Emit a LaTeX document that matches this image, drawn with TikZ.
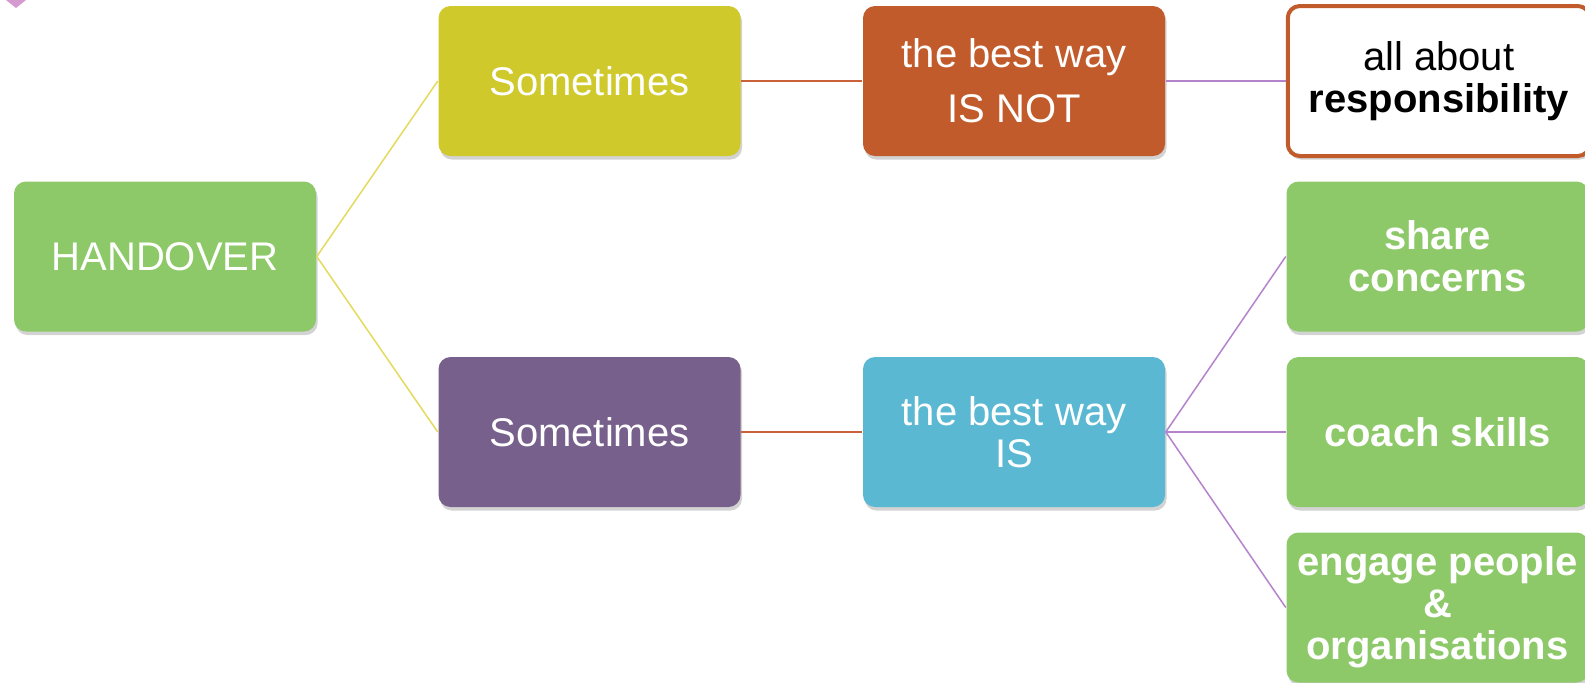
\documentclass[tikz,border=0pt]{standalone}
\usepackage{fontspec}
\setmainfont{Liberation Sans}
\usetikzlibrary{positioning, shadows}

\definecolor{leafgreen}{HTML}{8DC968}
\definecolor{olive}{HTML}{CFC92B}
\definecolor{rust}{HTML}{C25B2B}
\definecolor{plum}{HTML}{77608C}
\definecolor{sky}{HTML}{5BB8D3}
\definecolor{linkyellow}{HTML}{E3DA5E}
\definecolor{linkrust}{HTML}{C9623A}
\definecolor{linkpurple}{HTML}{B583CB}
\definecolor{cornerpink}{HTML}{D59AD0}

\begin{document}
\begin{tikzpicture}[
                    line width=0.75pt,
                    node distance=12pt and 60.5pt
                ]
                \tikzset{
                    box/.style = {rounded corners=6pt, minimum width=151pt, minimum height=75pt,
                                  inner sep=2pt, align=center, text=white,
                                  font=\fontsize{20}{21}\selectfont,
                                  drop shadow={shadow xshift=0.8pt, shadow yshift=-1.8pt, opacity=0.35}},
                    boldbox/.style = {box, fill=leafgreen, font=\fontsize{20}{21}\selectfont\bfseries},
                    yline/.style = {draw=linkyellow},
                    rline/.style = {draw=linkrust},
                    pline/.style = {draw=linkpurple}
                }

                \useasboundingbox (0,0) rectangle (792.5pt,-341pt);

                % corner mark
                \fill[cornerpink] (3pt,0) -- (8pt,-4pt) -- (13pt,0) -- cycle;

                % Root
                \node[box, fill=leafgreen] (handover) at (82.5pt,-128.25pt) {HANDOVER};

                % Second column
                \node[box, fill=olive, above right=12pt and 60.5pt of handover] (topsome) {Sometimes};
                \node[box, fill=plum, below right=12pt and 60.5pt of handover] (botsome) {Sometimes};

                % Third column
                \node[box, fill=rust, right=of topsome, font=\fontsize{20}{27.5}\selectfont] (isnot) {the best way\\IS NOT};
                \node[box, fill=sky, right=of botsome] (isway) {the best way\\IS};

                % Right column
                \node[box, fill=white, draw=rust, line width=2pt, text=black, right=60pt of isnot] (resp) {all about\\\textbf{responsibility}};
                \node[boldbox, right=60pt of isway] (coach) {coach skills};
                \node[boldbox, above=of coach] (share) {share\\concerns};
                \node[boldbox, below=of coach] (engage) {engage people\\\&\\organisations};

                % Links
                \draw[yline] (handover.east) -- (topsome.west);
                \draw[yline] (handover.east) -- (botsome.west);
                \draw[rline] (topsome.east) -- (isnot.west);
                \draw[rline] (botsome.east) -- (isway.west);
                \draw[pline] (isnot.east) -- (resp.west);
                \draw[pline] (isway.east) -- (share.west);
                \draw[pline] (isway.east) -- (coach.west);
                \draw[pline] (isway.east) -- (engage.west);

            \end{tikzpicture}
\end{document}
